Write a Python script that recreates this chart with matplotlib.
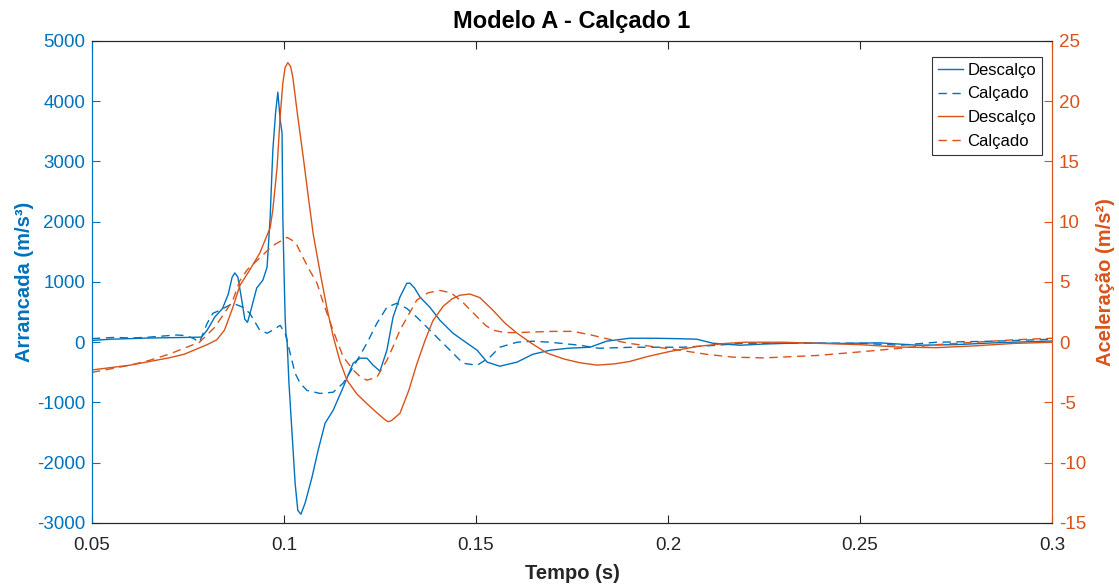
import matplotlib
matplotlib.use("Agg")
import matplotlib.pyplot as plt

plt.rcParams['font.family'] = ['Liberation Sans', 'DejaVu Sans']
plt.rcParams['axes.unicode_minus'] = False

BLUE = '#0072BD'
ORANGE = '#D95319'
DARK = '#262626'

# Arrancada (jerk), descalço
t_jerk_desc = [0.050, 0.055, 0.060, 0.065, 0.070, 0.075, 0.0785, 0.0800, 0.0820, 0.0840,
               0.0855, 0.0865, 0.0872, 0.0880, 0.0890, 0.0898, 0.0905, 0.0915, 0.0929, 0.0945,
               0.0956, 0.0964, 0.0971, 0.0978, 0.0984, 0.0990, 0.0995, 0.0997, 0.1000, 0.1003,
               0.1005, 0.1008, 0.1013, 0.1021, 0.1029, 0.1036, 0.1044, 0.1055, 0.1073, 0.1089,
               0.1107, 0.1128, 0.1154, 0.1180, 0.1198, 0.1216, 0.1232, 0.1250, 0.1268, 0.1284,
               0.1302, 0.1320, 0.1328, 0.1340, 0.1354, 0.1380, 0.1406, 0.1440, 0.1477, 0.1503,
               0.1529, 0.1562, 0.1607, 0.1648, 0.1693, 0.1740, 0.1797, 0.1840, 0.1900, 0.1960,
               0.2020, 0.2075, 0.2117, 0.2188, 0.2250, 0.2350, 0.2450, 0.2550, 0.2650, 0.2750,
               0.2850, 0.3000]
jerk_desc = [30, 50, 60, 70, 75, 80, 85, 200, 420, 560,
             800, 1080, 1150, 1080, 700, 380, 330, 560, 900, 1030,
             1245, 2075, 3190, 3800, 4150, 3700, 3470, 2075, 1200, 415,
             150, 33, -680, -1510, -2340, -2790, -2855, -2670, -2240, -1790,
             -1345, -1130, -750, -350, -265, -265, -380, -480, -133, 415,
             750, 980, 980, 900, 750, 580, 365, 150, -17, -133,
             -330, -398, -330, -200, -133, -100, -83, 17, 66, 66,
             60, 50, -17, -50, -30, -10, -20, -10, -50, -40,
             -10, 20]

# Arrancada (jerk), calçado
t_jerk_calc = [0.050, 0.053, 0.056, 0.060, 0.064, 0.068, 0.072, 0.0745, 0.0765, 0.0780,
               0.0800, 0.0815, 0.0833, 0.0867, 0.0893, 0.0911, 0.0937, 0.0956, 0.0971, 0.0990,
               0.1003, 0.1016, 0.1029, 0.1042, 0.1060, 0.1094, 0.1128, 0.1154, 0.1180, 0.1216,
               0.1242, 0.1268, 0.1294, 0.1320, 0.1346, 0.1380, 0.1406, 0.1440, 0.1466, 0.1503,
               0.1536, 0.1562, 0.1607, 0.1648, 0.1693, 0.1770, 0.1820, 0.1910, 0.2040, 0.2128,
               0.2195, 0.2344, 0.2500, 0.2604, 0.2700, 0.2850, 0.3000]
jerk_calc = [60, 70, 80, 70, 80, 100, 120, 110, 60, 0,
             315, 480, 530, 647, 580, 480, 200, 150, 200, 280,
             150, -180, -515, -680, -800, -850, -830, -680, -415, -17,
             315, 580, 647, 560, 415, 200, 33, -180, -349, -382,
             -250, -83, 0, 17, 0, -50, -100, -83, -83, -50,
             -17, -17, -17, -50, 0, 17, 50]

# Aceleração, descalço
t_acc_desc = [0.050, 0.055, 0.060, 0.065, 0.070, 0.074, 0.077, 0.080, 0.0825, 0.0845,
              0.0867, 0.0885, 0.0911, 0.0937, 0.0964, 0.0971, 0.0982, 0.0990, 0.0997, 0.1003,
              0.1010, 0.1017, 0.1023, 0.1036, 0.1050, 0.1062, 0.1076, 0.1094, 0.1112, 0.1128,
              0.1146, 0.1164, 0.1190, 0.1216, 0.1240, 0.1262, 0.1271, 0.1280, 0.1302, 0.1325,
              0.1346, 0.1368, 0.1388, 0.1415, 0.1438, 0.1458, 0.1484, 0.1510, 0.1544, 0.1575,
              0.1607, 0.1645, 0.1685, 0.1730, 0.1770, 0.1815, 0.1860, 0.1900, 0.1945, 0.2000,
              0.2076, 0.2150, 0.2200, 0.2300, 0.2400, 0.2500, 0.2600, 0.2700, 0.2800, 0.2900,
              0.3000]
acc_desc = [-2.3, -2.1, -1.9, -1.6, -1.3, -1.0, -0.6, -0.2, 0.2, 1.0,
            2.9, 4.7, 6.0, 7.4, 9.5, 11.0, 14.5, 18.7, 21.5, 22.8,
            23.2, 22.9, 22.0, 18.7, 15.4, 12.4, 9.0, 5.8, 2.8, 0.5,
            -1.6, -3.15, -4.3, -5.1, -5.8, -6.4, -6.6, -6.5, -5.9, -4.0,
            -1.8, 0.2, 1.8, 3.0, 3.6, 3.9, 4.0, 3.7, 2.66, 1.6,
            0.75, -0.1, -0.9, -1.4, -1.7, -1.9, -1.8, -1.6, -1.2, -0.8,
            -0.35, -0.1, 0.0, 0.0, -0.1, -0.2, -0.4, -0.45, -0.3, -0.1,
            0.0]

# Aceleração, calçado
t_acc_calc = [0.050, 0.055, 0.060, 0.065, 0.070, 0.074, 0.078, 0.082, 0.0855, 0.0867,
              0.0885, 0.0904, 0.0937, 0.0970, 0.1008, 0.1030, 0.1050, 0.1068, 0.1086, 0.1100,
              0.1112, 0.1130, 0.1154, 0.1180, 0.1200, 0.1216, 0.1242, 0.1268, 0.1285, 0.1302,
              0.1323, 0.1346, 0.1375, 0.1406, 0.1435, 0.1466, 0.1500, 0.1525, 0.1544, 0.1575,
              0.1610, 0.1650, 0.1700, 0.1753, 0.1800, 0.1857, 0.1900, 0.1970, 0.2031, 0.2100,
              0.2170, 0.2250, 0.2388, 0.2500, 0.2604, 0.2700, 0.2800, 0.2900, 0.3000]
acc_calc = [-2.5, -2.2, -1.9, -1.5, -1.0, -0.5, 0.0, 1.25, 2.9, 3.5,
            5.1, 6.0, 7.0, 8.0, 8.7, 8.3, 7.0, 5.9, 4.9, 3.5,
            2.4, 0.8, -1.2, -2.3, -2.9, -3.15, -2.9, -1.5, -0.3, 1.0,
            2.2, 3.5, 4.1, 4.3, 4.1, 3.3, 2.2, 1.4, 1.0, 0.8,
            0.8, 0.85, 0.9, 0.9, 0.6, 0.17, -0.1, -0.4, -0.66, -1.0,
            -1.24, -1.3, -1.1, -0.8, -0.5, -0.2, 0.0, 0.2, 0.33]

x_ticks = [0.05, 0.1, 0.15, 0.2, 0.25, 0.3]
x_tick_labels = ['0.05', '0.1', '0.15', '0.2', '0.25', '0.3']
jerk_ticks = [-3000, -2000, -1000, 0, 1000, 2000, 3000, 4000, 5000]
acc_ticks = [-15, -10, -5, 0, 5, 10, 15, 20, 25]

fig = plt.figure(figsize=(11.19, 5.85), dpi=100)
ax = fig.add_axes([0.0822, 0.106, 0.8579, 0.824])
ax2 = ax.twinx()

lw = 1.0
dash = (6, 4)
h1, = ax.plot(t_jerk_desc, jerk_desc, color=BLUE, lw=lw, label='Descalço')
h2, = ax.plot(t_jerk_calc, jerk_calc, color=BLUE, lw=lw, dashes=dash, label='Calçado')
h3, = ax2.plot(t_acc_desc, acc_desc, color=ORANGE, lw=lw, label='Descalço')
h4, = ax2.plot(t_acc_calc, acc_calc, color=ORANGE, lw=lw, dashes=dash, label='Calçado')

ax.set_xlim(0.05, 0.3)
ax.set_ylim(-3000, 5000)
ax2.set_ylim(-15, 25)
ax.set_xticks(x_ticks)
ax.set_xticklabels(x_tick_labels)
ax.set_yticks(jerk_ticks)
ax2.set_yticks(acc_ticks)

fs = 13.5
ax.tick_params(axis='x', direction='in', length=6, width=0.8, color=DARK,
               labelcolor=DARK, labelsize=fs, top=True, pad=10)
ax.tick_params(axis='y', direction='in', length=6, width=0.8, color=BLUE,
               labelcolor=BLUE, labelsize=fs, pad=5)
ax2.tick_params(axis='y', direction='in', length=6, width=0.8, color=ORANGE,
                labelcolor=ORANGE, labelsize=fs, pad=5)

for a in (ax, ax2):
    a.spines['top'].set_color(DARK)
    a.spines['bottom'].set_color(DARK)
    a.spines['left'].set_color(BLUE)
    a.spines['right'].set_color(ORANGE)
    for s in a.spines.values():
        s.set_linewidth(0.8)

ax.set_xlabel('Tempo (s)', fontsize=14.5, fontweight='bold', color=DARK, labelpad=7)
ax.set_ylabel('Arrancada (m/s³)', fontsize=14.5, fontweight='bold', color=BLUE, labelpad=2)
ax2.set_ylabel('Aceleração (m/s²)', fontsize=14.5, fontweight='bold', color=ORANGE, labelpad=7)
ax.set_title('Modelo A - Calçado 1', fontsize=17, fontweight='bold', color='black', pad=9)

leg = ax2.legend(handles=[h1, h2, h3, h4], loc='upper right',
                 bbox_to_anchor=(0.9895, 0.967), fontsize=12, frameon=True,
                 fancybox=False, edgecolor='black', handlelength=1.5,
                 handletextpad=0.25, borderpad=0.35, labelspacing=0.52,
                 borderaxespad=0.0)
leg.get_frame().set_linewidth(0.8)

fig.savefig('out.png', dpi=100, facecolor='white')
